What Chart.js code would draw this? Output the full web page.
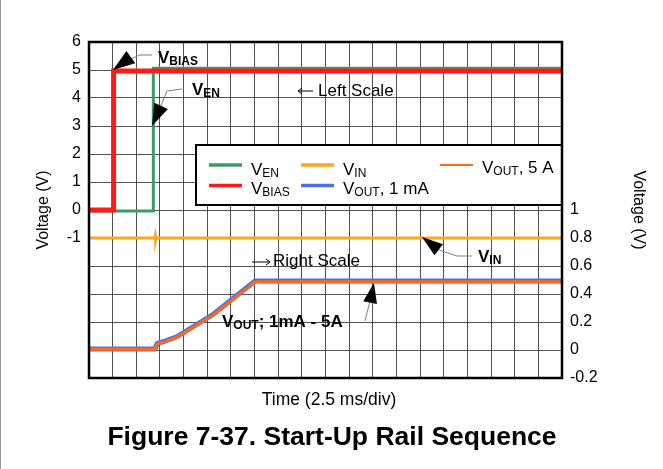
<!DOCTYPE html>
<html><head><meta charset="utf-8">
<script src="https://cdn.jsdelivr.net/npm/chart.js@4"></script>
<style>html,body{margin:0;padding:0;background:#fff;overflow:hidden}canvas{display:block}</style>
</head><body>
<canvas id="c" width="663" height="469"></canvas>
<script>
const FONT = '"Liberation Sans", Arial, Helvetica, sans-serif';

// Time in ms (2.5 ms/div, 20 divisions)
const tBias = [0, 2.6, 2.6, 50];
const vBias = [0, 0, 4.96, 4.96];
const tEn = [0, 6.8, 6.8, 50];
const vEn = [-0.04, -0.04, 5.06, 5.06];
const tIn = [0, 6.95, 7.0, 7.05, 7.1, 50];
const vIn = [0.8, 0.8, 0.815, 0.785, 0.8, 0.8];
const tOut = [0, 6.98, 7.22, 8.03, 9.27, 13.14, 17.55, 50];
const vOut5A = [0.005, 0.005, 0.045, 0.06, 0.09, 0.25, 0.488, 0.488];
const vOut1mA = [0.008, 0.008, 0.048, 0.063, 0.094, 0.255, 0.492, 0.492];

const leftTickLabels = [-1, 0, 1, 2, 3, 4, 5, 6];
const rightTickLabels = [-0.2, 0, 0.2, 0.4, 0.6, 0.8, 1];

const pts = (t, v) => t.map((x, i) => ({x, y: v[i]}));
const GRID = 'rgba(50,50,50,0.85)';

function drawRich(ctx, x, y, parts) {
  ctx.textAlign = 'left'; ctx.textBaseline = 'alphabetic'; ctx.fillStyle = '#000';
  for (const p of parts) {
    ctx.font = (p.b ? 'bold ' : '') + p.s + 'px ' + FONT;
    ctx.fillText(p.t, x, y + (p.dy || 0));
    x += ctx.measureText(p.t).width;
  }
}
function arrowHead(ctx, tip, toward, len, hw) {
  const dx = toward[0] - tip[0], dy = toward[1] - tip[1];
  const d = Math.hypot(dx, dy), ux = dx / d, uy = dy / d;
  const bx = tip[0] + ux * len, by = tip[1] + uy * len;
  ctx.beginPath();
  ctx.moveTo(tip[0], tip[1]);
  ctx.lineTo(bx - uy * hw, by + ux * hw);
  ctx.lineTo(bx + uy * hw, by - ux * hw);
  ctx.closePath();
  ctx.fillStyle = '#000'; ctx.fill();
}
function leader(ctx, path) {
  ctx.beginPath(); ctx.moveTo(path[0][0], path[0][1]);
  for (let i = 1; i < path.length; i++) ctx.lineTo(path[i][0], path[i][1]);
  ctx.strokeStyle = '#808080'; ctx.lineWidth = 1; ctx.stroke();
}
function smallArrow(ctx, x1, x2, y) {
  ctx.beginPath(); ctx.moveTo(x1, y); ctx.lineTo(x2, y);
  ctx.strokeStyle = '#000'; ctx.lineWidth = 1; ctx.stroke();
  const dir = Math.sign(x2 - x1);
  ctx.beginPath(); ctx.moveTo(x2, y); ctx.lineTo(x2 - dir * 4, y - 3); ctx.moveTo(x2, y); ctx.lineTo(x2 - dir * 4, y + 3); ctx.stroke();
}

const deco = {
  id: 'deco',
  afterDatasetsDraw(chart) {
    const ctx = chart.ctx, a = chart.chartArea;
    ctx.save();
    // legend box
    const lx1 = 196, ly1 = 145, lx2 = a.right, ly2 = 205;
    ctx.fillStyle = '#fff'; ctx.fillRect(lx1, ly1, lx2 - lx1, ly2 - ly1);
    ctx.strokeStyle = '#000'; ctx.lineWidth = 2; ctx.strokeRect(lx1, ly1, lx2 - lx1, ly2 - ly1);
    const leg = [
      {x: 209, y: 165, c: '#3c9a64', w: 3.5, parts: [{t: 'V', s: 17}, {t: 'EN', s: 12, dy: 2}], ty: 175},
      {x: 301, y: 165, c: '#ffa51f', w: 3.5, parts: [{t: 'V', s: 17}, {t: 'IN', s: 12, dy: 2}], ty: 175},
      {x: 440, y: 165, c: '#ff6a13', w: 2, parts: [{t: 'V', s: 17}, {t: 'OUT', s: 12, dy: 2}, {t: ', 5 A', s: 17}], ty: 173},
      {x: 209, y: 185.5, c: '#ff1a1a', w: 3.5, parts: [{t: 'V', s: 17}, {t: 'BIAS', s: 12, dy: 2}], ty: 194},
      {x: 301, y: 185.5, c: '#4f6fe8', w: 3.5, parts: [{t: 'V', s: 17}, {t: 'OUT', s: 12, dy: 2}, {t: ', 1 mA', s: 17}], ty: 194}
    ];
    for (const L of leg) {
      ctx.beginPath(); ctx.moveTo(L.x, L.y); ctx.lineTo(L.x + 33, L.y);
      ctx.strokeStyle = L.c; ctx.lineWidth = L.w; ctx.stroke();
      drawRich(ctx, L.x + 42, L.ty, L.parts);
    }
    // plot frame
    ctx.strokeStyle = '#000'; ctx.lineWidth = 2.5;
    ctx.strokeRect(a.left, a.top, a.right - a.left, a.bottom - a.top);

    // annotations
    leader(ctx, [[128, 60], [140, 55], [152, 55]]);
    arrowHead(ctx, [113, 70], [131, 57], 22, 7.5);
    drawRich(ctx, 158, 63, [{t: 'V', s: 17, b: 1}, {t: 'BIAS', s: 12, b: 1, dy: 1.5}]);

    leader(ctx, [[160, 108], [167, 91], [182, 89]]);
    arrowHead(ctx, [152, 126], [161, 106], 22, 7.5);
    drawRich(ctx, 192, 95, [{t: 'V', s: 17, b: 1}, {t: 'EN', s: 12, b: 1, dy: 1.5}]);

    leader(ctx, [[436, 249], [457, 256], [472, 256]]);
    arrowHead(ctx, [422, 237], [439, 250], 21, 7);
    drawRich(ctx, 478, 262, [{t: 'V', s: 17, b: 1}, {t: 'IN', s: 12, b: 1, dy: 1.5}]);

    leader(ctx, [[370, 301], [365, 321]]);
    arrowHead(ctx, [374, 283], [370, 303], 20, 7);
    drawRich(ctx, 222, 327, [{t: 'V', s: 17, b: 1}, {t: 'OUT', s: 12, b: 1, dy: 1.5}, {t: '; 1mA - 5A', s: 17, b: 1}]);

    smallArrow(ctx, 313, 298, 91);
    drawRich(ctx, 318, 96, [{t: 'Left Scale', s: 17}]);
    smallArrow(ctx, 252, 270, 262);
    drawRich(ctx, 273, 266, [{t: 'Right Scale', s: 17}]);

    // axis titles
    ctx.fillStyle = '#000'; ctx.font = '16px ' + FONT; ctx.textAlign = 'center'; ctx.textBaseline = 'alphabetic';
    ctx.save(); ctx.translate(48, 210); ctx.rotate(-Math.PI / 2); ctx.fillText('Voltage (V)', 0, 0); ctx.restore();
    ctx.save(); ctx.translate(634, 210); ctx.rotate(Math.PI / 2); ctx.fillText('Voltage (V)', 0, 0); ctx.restore();
    ctx.font = '17.5px ' + FONT; ctx.fillText('Time (2.5 ms/div)', 329, 405);
    ctx.font = 'bold 26.5px ' + FONT; ctx.fillText('Figure 7-37. Start-Up Rail Sequence', 332, 445);

    // page edge
    ctx.beginPath(); ctx.moveTo(0.5, 0); ctx.lineTo(0.5, 469); ctx.strokeStyle = '#999'; ctx.lineWidth = 1; ctx.stroke();
    ctx.restore();
  }
};

new Chart(document.getElementById('c'), {
  type: 'line',
  data: {
    datasets: [
      {label: 'VBIAS', data: pts(tBias, vBias), borderColor: '#ff1a1a', borderWidth: 5, yAxisID: 'y', order: 0},
      {label: 'VEN', data: pts(tEn, vEn), borderColor: '#3c9a64', borderWidth: 3, yAxisID: 'y', order: 1},
      {label: 'VIN', data: pts(tIn, vIn), borderColor: '#ffa51f', borderWidth: 3, yAxisID: 'y2', order: 2},
      {label: 'VOUT, 5 A', data: pts(tOut, vOut5A), borderColor: '#ff6a13', borderWidth: 3, yAxisID: 'y2', order: 3},
      {label: 'VOUT, 1 mA', data: pts(tOut, vOut1mA), borderColor: '#4f6fe8', borderWidth: 5, yAxisID: 'y2', order: 4}
    ]
  },
  options: {
    responsive: false, animation: false, devicePixelRatio: 1,
    layout: {padding: {top: 42, left: 0, right: 0, bottom: 0}},
    elements: {point: {radius: 0}, line: {tension: 0, fill: false}},
    plugins: {legend: {display: false}, tooltip: {enabled: false}},
    scales: {
      x: {type: 'linear', min: 0, max: 50, ticks: {display: false, stepSize: 2.5},
          grid: {color: GRID, lineWidth: 1, drawTicks: false}, border: {display: false},
          afterFit(s) { s.height = 91; }},
      y: {position: 'left', min: -6, max: 6,
          ticks: {stepSize: 1, autoSkip: false, padding: 8, color: '#000', font: {size: 16, family: FONT},
                  callback: v => leftTickLabels.includes(v) ? String(v) : ''},
          grid: {color: GRID, lineWidth: 1, drawTicks: false}, border: {display: false},
          afterFit(s) { s.width = 89; }},
      y2: {position: 'right', min: -0.2, max: 2.2,
          ticks: {stepSize: 0.2, autoSkip: false, padding: 8, color: '#000', font: {size: 16, family: FONT},
                  callback: v => { const r = rightTickLabels.find(q => Math.abs(q - v) < 1e-6); return r === undefined ? '' : String(r); }},
          grid: {display: false, drawTicks: false}, border: {display: false},
          afterFit(s) { s.width = 101; }}
    }
  },
  plugins: [deco]
});
</script>
</body></html>
